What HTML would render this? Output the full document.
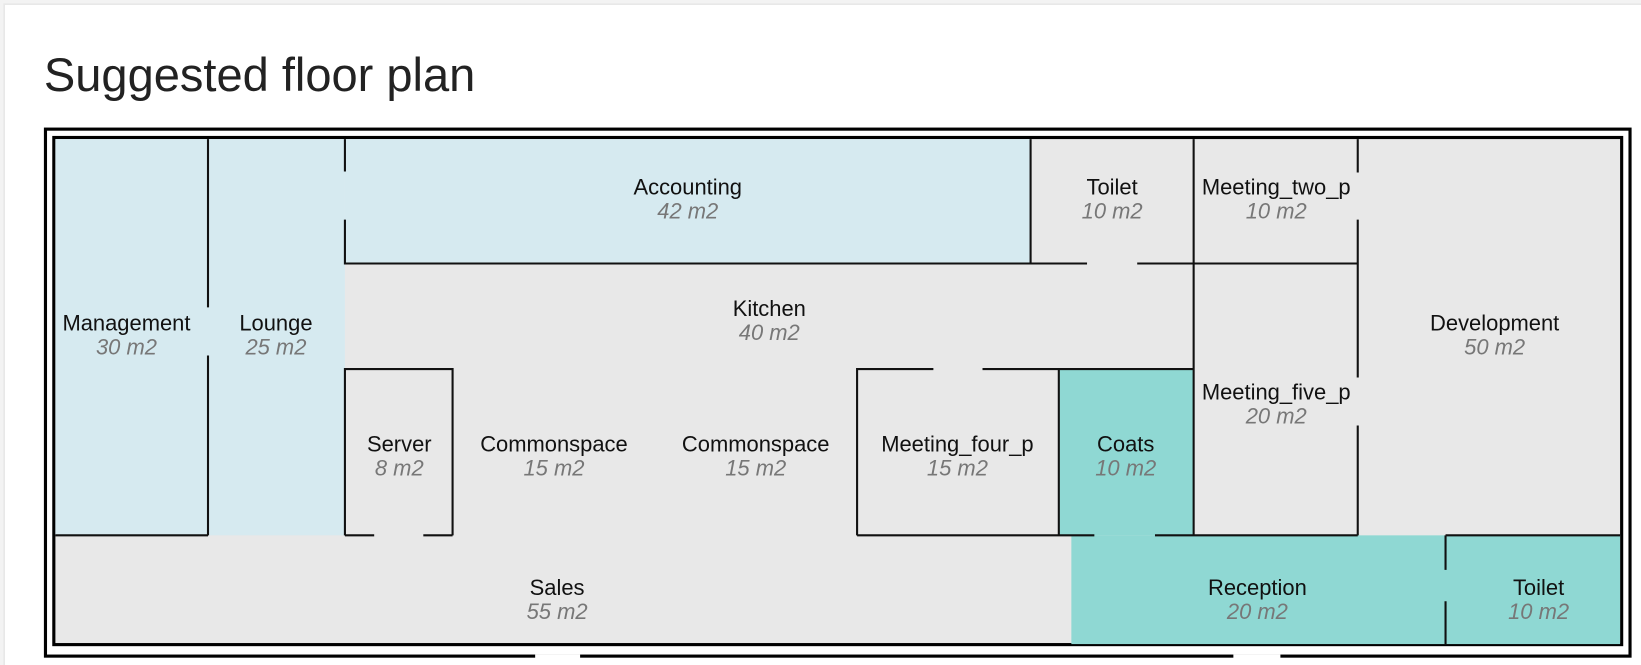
<!DOCTYPE html>
<html><head><meta charset="utf-8"><style>
html,body{margin:0;padding:0;background:#f3f3f3;width:1641px;height:665px;overflow:hidden}
svg{display:block}
.n{font-family:"Liberation Sans",sans-serif;font-size:21px;fill:#111;text-anchor:middle}
.a{font-family:"Liberation Sans",sans-serif;font-size:21px;fill:#777;font-style:italic;text-anchor:middle}
.w{stroke:#111;stroke-width:2;fill:none}
</style></head><body>
<svg width="1641" height="665" viewBox="0 0 1570 636" preserveAspectRatio="none">
<rect x="4" y="4" width="1580" height="640" fill="#fff" stroke="#e8e8e8" stroke-width="1.5"/>
<text x="42" y="87" font-family="Liberation Sans, sans-serif" font-size="45" fill="#222" font-weight="300">Suggested floor plan</text>
<rect x="43.5" y="123.5" width="1516" height="504" fill="#fff" stroke="#000" stroke-width="3"/>
<rect x="51.5" y="131.5" width="1500" height="485" fill="#e8e8e8" stroke="#000" stroke-width="3"/>
<rect x="512" y="626" width="43" height="4" fill="#fff"/>
<rect x="1180" y="626" width="45" height="4" fill="#fff"/>
<!-- fills -->
<rect x="53" y="133" width="277" height="379" fill="#d6eaf0"/>
<rect x="330" y="133" width="656" height="119" fill="#d6eaf0"/>
<rect x="1013" y="353" width="129" height="159" fill="#8fd8d3"/>
<rect x="1025" y="512" width="525" height="104" fill="#8fd8d3"/>
<!-- walls -->
<path class="w" d="M199 133V294M199 340V512M53 512H199
M330 133V164M330 210V252H986M986 133V252M986 252H1040M1088 252H1142M1142 133V512M1142 252H1299
M1299 133V165M1299 210V361M1299 407V512
M330 512V353H433V512M330 512H358M405 512H433
M820 512V353H893M940 353H1142M820 512H1013V353M1013 512H1047M1105 512H1142V512H1299
M1383 512H1550M1383 512V545M1383 575V616"/>
<!-- labels -->
<text class="n" x="121" y="316">Management</text><text class="a" x="121" y="339">30 m2</text>
<text class="n" x="264" y="316">Lounge</text><text class="a" x="264" y="339">25 m2</text>
<text class="n" x="658" y="186">Accounting</text><text class="a" x="658" y="209">42 m2</text>
<text class="n" x="1064" y="186">Toilet</text><text class="a" x="1064" y="209">10 m2</text>
<text class="n" x="1221" y="186">Meeting_two_p</text><text class="a" x="1221" y="209">10 m2</text>
<text class="n" x="736" y="302">Kitchen</text><text class="a" x="736" y="325">40 m2</text>
<text class="n" x="1430" y="316">Development</text><text class="a" x="1430" y="339">50 m2</text>
<text class="n" x="1221" y="382">Meeting_five_p</text><text class="a" x="1221" y="405">20 m2</text>
<text class="n" x="382" y="432">Server</text><text class="a" x="382" y="455">8 m2</text>
<text class="n" x="530" y="432">Commonspace</text><text class="a" x="530" y="455">15 m2</text>
<text class="n" x="723" y="432">Commonspace</text><text class="a" x="723" y="455">15 m2</text>
<text class="n" x="916" y="432">Meeting_four_p</text><text class="a" x="916" y="455">15 m2</text>
<text class="n" x="1077" y="432">Coats</text><text class="a" x="1077" y="455">10 m2</text>
<text class="n" x="533" y="569">Sales</text><text class="a" x="533" y="592">55 m2</text>
<text class="n" x="1203" y="569">Reception</text><text class="a" x="1203" y="592">20 m2</text>
<text class="n" x="1472" y="569">Toilet</text><text class="a" x="1472" y="592">10 m2</text>
</svg>
</body></html>
